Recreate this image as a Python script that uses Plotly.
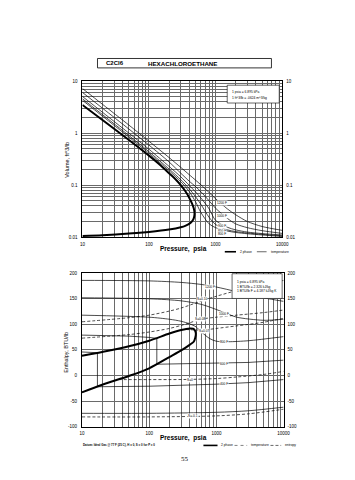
import math
import plotly.graph_objects as go

W, H = 355, 480
def px(x): return x / W
def py(y): return 1 - y / H

# ---------------- data: volume chart ----------------
p_vap_v = [10, 20, 50, 100, 150, 200, 250, 300, 350, 400, 440, 470, 483]
v_vap = [3.5, 1.8, 0.74, 0.37, 0.24, 0.17, 0.13, 0.1, 0.077, 0.058, 0.045, 0.036, 0.029]
p_liq_v = [483, 478, 460, 420, 350, 300, 200, 100, 50, 20, 10]
v_liq = [0.029, 0.025, 0.0215, 0.0188, 0.0165, 0.0155, 0.014, 0.0126, 0.0117, 0.0109, 0.0105]

p_iso = [10, 20, 50, 100, 200, 300, 400, 500, 600, 800, 1000, 1500, 2000, 3000, 5000, 10000]
v_1200 = [7.25, 3.6, 1.43, 0.70, 0.34, 0.22, 0.16, 0.125, 0.102, 0.072, 0.055, 0.035, 0.027, 0.02, 0.016, 0.0135]
v_1000 = [6.1, 3.03, 1.2, 0.59, 0.28, 0.17, 0.12, 0.094, 0.075, 0.05, 0.036, 0.023, 0.018, 0.0152, 0.0133, 0.0118]
v_900 = [5.1, 2.53, 1.0, 0.49, 0.23, 0.145, 0.1, 0.074, 0.057, 0.035, 0.021, 0.0155, 0.0138, 0.0125, 0.0117, 0.011]
v_850 = [4.6, 2.28, 0.9, 0.44, 0.205, 0.128, 0.086, 0.06, 0.043, 0.024, 0.0175, 0.0138, 0.0128, 0.012, 0.0113, 0.0106]
v_800 = [4.3, 2.13, 0.84, 0.41, 0.19, 0.117, 0.076, 0.048, 0.03, 0.018, 0.0152, 0.0131, 0.0123, 0.0116, 0.011, 0.0103]
iso_v_labels = ["1200 F", "1000 F", "900 F", "850 F", "800 F"]
iso_v_label_vals = [0.045, 0.026, 0.0165, 0.0133, 0.0113]
label_p_top = 1260

# ---------------- data: enthalpy chart ----------------
p_vap_h = [10, 20, 50, 100, 200, 300, 400, 450, 480, 495]
h_vap = [38.5, 46, 57, 68, 82, 89, 92, 91.5, 88, 82]
p_liq_h = [495, 485, 460, 400, 300, 200, 100, 50, 20, 10]
h_liq = [82, 74, 66, 60, 49, 36, 14, -1, -18, -33]

p_t1200 = [10, 100, 300, 600, 1000, 2000, 5000, 10000]
h_t1200 = [186, 185, 182, 178, 173, 164, 152, 145]
p_t1000 = [10, 100, 300, 600, 1000, 1500, 2000, 5000, 10000]
h_t1000 = [152, 150, 146, 139, 129, 120, 114, 108, 110]
p_t800 = [10, 100, 200, 300, 400, 500, 600, 800, 1000, 1500, 3000, 10000]
h_t800 = [118, 114, 110, 106, 101, 95, 85, 72, 67, 66, 68, 76]
p_t600 = [10, 50, 100, 130, 130, 300, 1000, 3000, 10000]
h_t600 = [79, 77, 74.5, 72.5, 22, 23, 24, 25.5, 30]
p_t400 = [10, 17, 17, 100, 1000, 3000, 10000]
h_t400 = [46, 44.5, -22, -21, -17, -14, -8]
p_t200 = [10, 100, 1000, 3000, 10000]
h_t200 = [-74, -74, -72, -69, -62]

p_s010 = [10, 50, 100, 200, 300, 500, 606, 1000, 2000, 5000, 10000]
h_s010 = [105, 113, 118, 126, 132, 142, 146, 155, 166, 178, 186]
p_s008 = [10, 50, 100, 200, 300, 400, 580, 1000, 2000, 5000, 10000]
h_s008 = [73, 80, 85, 92, 98, 103, 110, 114, 118, 123, 128]
p_s007 = [350, 500, 650, 1000, 2000, 5000, 10000]
h_s007 = [90, 89, 89, 92, 97, 104, 112]
p_s000 = [35, 100, 200, 400, 1000, 2000, 5000, 10000]
h_s000 = [-8, -8, -8, -7.7, -6, -3, 2, 8]
p_sm01 = [10, 100, 1000, 3000, 10000]
h_sm01 = [-81, -81, -79, -75, -66]

t_labels = ["1200 F", "1000 F", "800 F", "600 F", "400 F"]
t_label_p = [800, 1320, 1320, 1320, 1320]
t_label_h = [173, 121, 66, 23, -16]
s_labels = ["S=0.10", "S=0.08", "S=0.07", "S=0", "S=-0.1"]
s_label_p = [606, 580, 650, 400, 450]
s_label_h = [150, 110, 87, -8, -80]

x_ticks = [m * 10 ** e for e in range(1, 4) for m in range(1, 10)] + [10000]
x_text = [str(v) if v in (10, 100, 1000, 10000) else "" for v in x_ticks]
v_ticks = [round(m * 10.0 ** e, 4) for e in range(-2, 1) for m in range(1, 10)] + [10]
v_text = {0.01: "0.01", 0.1: "0.1", 1: "1", 10: "10"}
v_tick_text = [v_text.get(v, "") for v in v_ticks]
h_ticks = [-100, -50, 0, 50, 100, 150, 200]
h_text = [str(v) for v in h_ticks]

FONT = "Liberation Sans, Arial, sans-serif"
BLACK = "black"
GRID = "#6a6a6a"

fig = go.Figure()

def line(x, y, xa, ya, width=0.7, dash="solid", shape="spline"):
    fig.add_trace(go.Scatter(x=x, y=y, xaxis=xa, yaxis=ya, mode="lines",
                             line=dict(color=BLACK, width=width, dash=dash, shape=shape, smoothing=0.8),
                             hoverinfo="skip", showlegend=False))

# volume chart traces
for v in [v_1200, v_1000, v_900, v_850, v_800]:
    line(p_iso, v, "x", "y")
line(p_vap_v + p_liq_v[1:], v_vap + v_liq[1:], "x", "y", width=2)

# enthalpy chart traces
for p, h in [(p_t1200, h_t1200), (p_t1000, h_t1000), (p_t800, h_t800), (p_t200, h_t200)]:
    line(p, h, "x2", "y2")
for p, h in [(p_t600, h_t600), (p_t400, h_t400)]:
    line(p, h, "x2", "y2", shape="linear")
for p, h in [(p_s010, h_s010), (p_s008, h_s008), (p_s007, h_s007), (p_s000, h_s000), (p_sm01, h_sm01)]:
    line(p, h, "x2", "y2", dash="3px,2px")
line(p_vap_h + p_liq_h[1:], h_vap + h_liq[1:], "x2", "y2", width=2)

# invisible traces for right-hand axes
fig.add_trace(go.Scatter(x=[10], y=[1], xaxis="x", yaxis="y3", mode="markers",
                         marker=dict(opacity=0), hoverinfo="skip", showlegend=False))
fig.add_trace(go.Scatter(x=[10], y=[0], xaxis="x2", yaxis="y4", mode="markers",
                         marker=dict(opacity=0), hoverinfo="skip", showlegend=False))

tickfont = dict(family=FONT, size=4.5, color=BLACK)
common = dict(showline=True, linecolor=BLACK, linewidth=1, mirror=True, ticks="",
              showgrid=True, gridcolor=GRID, gridwidth=0.5, zeroline=False, tickfont=tickfont)

TX = (73.5, 279.0); TY = (72.0, 229.5)
BX = (73.0, 280.5); BY = (266.0, 421.0)

fig.update_layout(
    width=W, height=H, margin=dict(l=0, r=0, t=0, b=0),
    paper_bgcolor="white", plot_bgcolor="white", showlegend=False,
    xaxis=dict(type="log", range=[1, 4], domain=[px(TX[0]), px(TX[1])], anchor="y",
               tickvals=x_ticks, ticktext=x_text, ticklabelstandoff=2, **common),
    yaxis=dict(type="log", range=[-2, 1], domain=[py(TY[1]), py(TY[0])], anchor="x",
               tickvals=v_ticks, ticktext=v_tick_text, ticklabelstandoff=3, **common),
    yaxis3=dict(type="log", range=[-2, 1], overlaying="y", side="right", anchor="x",
                tickvals=[0.01, 0.1, 1, 10], ticktext=["0.01", "0.1", "1", "10"],
                showgrid=False, showline=False, ticks="", zeroline=False, tickfont=tickfont,
                ticklabelstandoff=3),
    xaxis2=dict(type="log", range=[1, 4], domain=[px(BX[0]), px(BX[1])], anchor="y2",
                tickvals=x_ticks, ticktext=x_text, ticklabelstandoff=2, **common),
    yaxis2=dict(range=[-100, 200], domain=[py(BY[1]), py(BY[0])], anchor="x2",
                tickvals=h_ticks, ticktext=h_text, ticklabelstandoff=3, **common),
    yaxis4=dict(range=[-100, 200], overlaying="y2", side="right", anchor="x2",
                tickvals=h_ticks, ticktext=h_text, showgrid=False, showline=False,
                ticks="", zeroline=False, tickfont=tickfont, ticklabelstandoff=3),
)

shapes = []
ann = []

def text(x, y, s, size=4, bold=False, xanchor="center", family=FONT, angle=0):
    if bold:
        s = "<b>" + s + "</b>"
    ann.append(dict(x=x, y=y, xref="paper", yref="paper", text=s, showarrow=False,
                    xanchor=xanchor, yanchor="middle", textangle=angle,
                    font=dict(family=family, size=size, color=BLACK)))

# title box
shapes.append(dict(type="rect", xref="paper", yref="paper", x0=px(89), x1=px(268),
                   y0=py(58.5), y1=py(49), line=dict(color=BLACK, width=0.8)))
text(px(96), py(53.8), "C2Cl6", size=6, bold=True, xanchor="left")
text(px(176), py(53.8), "HEXACHLOROETHANE", size=6.2, bold=True)

# info box top
shapes.append(dict(type="rect", xref="paper", yref="paper", x0=px(222.5), x1=px(276),
                   y0=py(94), y1=py(76), fillcolor="white", line=dict(color=BLACK, width=0.6)))
text(px(225), py(83.3), "1 psia = 6.895 kPa", size=3.3, xanchor="left")
text(px(225), py(88.7), "1 ft^3/lb = .0624 m^3/kg", size=3.3, xanchor="left")

# info box bottom
shapes.append(dict(type="rect", xref="paper", yref="paper", x0=px(227.5), x1=px(279),
                   y0=py(291.5), y1=py(266.5), fillcolor="white", line=dict(color=BLACK, width=0.6)))
text(px(230), py(274.7), "1 psia = 6.895 kPa", size=3.3, xanchor="left")
text(px(230), py(279.5), "1 BTU/lb = 2.326 kJ/kg", size=3.3, xanchor="left")
text(px(230), py(284.3), "1 BTU/lb F = 4.187 kJ/kg K", size=3.3, xanchor="left")

# axis titles
text(px(58), py(151), "Volume, ft^3/lb", size=5.5, angle=-90)
text(px(177), py(242), "Pressure,  psia", size=6.5, bold=True)
text(px(57), py(346), "Enthalpy, BTU/lb", size=5.5, angle=-90)
text(px(177), py(432), "Pressure,  psia", size=6.5, bold=True)

# legends
shapes.append(dict(type="line", xref="paper", yref="paper", x0=px(220), x1=px(231.5),
                   y0=py(244.3), y1=py(244.3), line=dict(color=BLACK, width=1.6)))
text(px(233.5), py(244.3), "2 phase", size=3.3, xanchor="left")
shapes.append(dict(type="line", xref="paper", yref="paper", x0=px(253), x1=px(263),
                   y0=py(244.3), y1=py(244.3), line=dict(color=BLACK, width=0.6)))
text(px(265.5), py(244.3), "temperature", size=3.3, xanchor="left")

shapes.append(dict(type="line", xref="paper", yref="paper", x0=px(198), x1=px(212.5),
                   y0=py(440), y1=py(440), line=dict(color=BLACK, width=1.6)))
text(px(214), py(440), "2 phase", size=3.3, xanchor="left")
shapes.append(dict(type="line", xref="paper", yref="paper", x0=px(230), x1=px(243),
                   y0=py(440), y1=py(440), line=dict(color=BLACK, width=0.5, dash="dot")))
text(px(245), py(440), "temperature", size=3.3, xanchor="left")
shapes.append(dict(type="line", xref="paper", yref="paper", x0=px(267), x1=px(278),
                   y0=py(440), y1=py(440), line=dict(color=BLACK, width=0.6, dash="3px,2px")))
text(px(280), py(440), "entropy", size=3.3, xanchor="left")
text(px(72), py(440), "Datum: Ideal Gas @ 77 F (25 C), H = 0, S = 0 for P = 0", size=2.9,
     xanchor="left", bold=True)

text(px(179), py(454), "55", size=7, family="Liberation Serif, serif")

# curve labels (data coordinates; log axes take log10 positions)
lab_font = dict(family=FONT, size=3.2, color=BLACK)
for lab, val in zip(iso_v_labels, iso_v_label_vals):
    ann.append(dict(x=math.log10(label_p_top), y=math.log10(val), xref="x", yref="y", text=lab,
                    showarrow=False, bgcolor="white", borderpad=0, font=lab_font))
for lab, p, h in zip(t_labels, t_label_p, t_label_h):
    ann.append(dict(x=math.log10(p), y=h, xref="x2", yref="y2", text=lab, showarrow=False,
                    bgcolor="white", borderpad=0, font=lab_font))
for lab, p, h in zip(s_labels, s_label_p, s_label_h):
    ann.append(dict(x=math.log10(p), y=h, xref="x2", yref="y2", text=lab, showarrow=False,
                    bgcolor="white", borderpad=0, font=lab_font))

fig.update_layout(shapes=shapes, annotations=ann)
fig.write_html("out.html")
